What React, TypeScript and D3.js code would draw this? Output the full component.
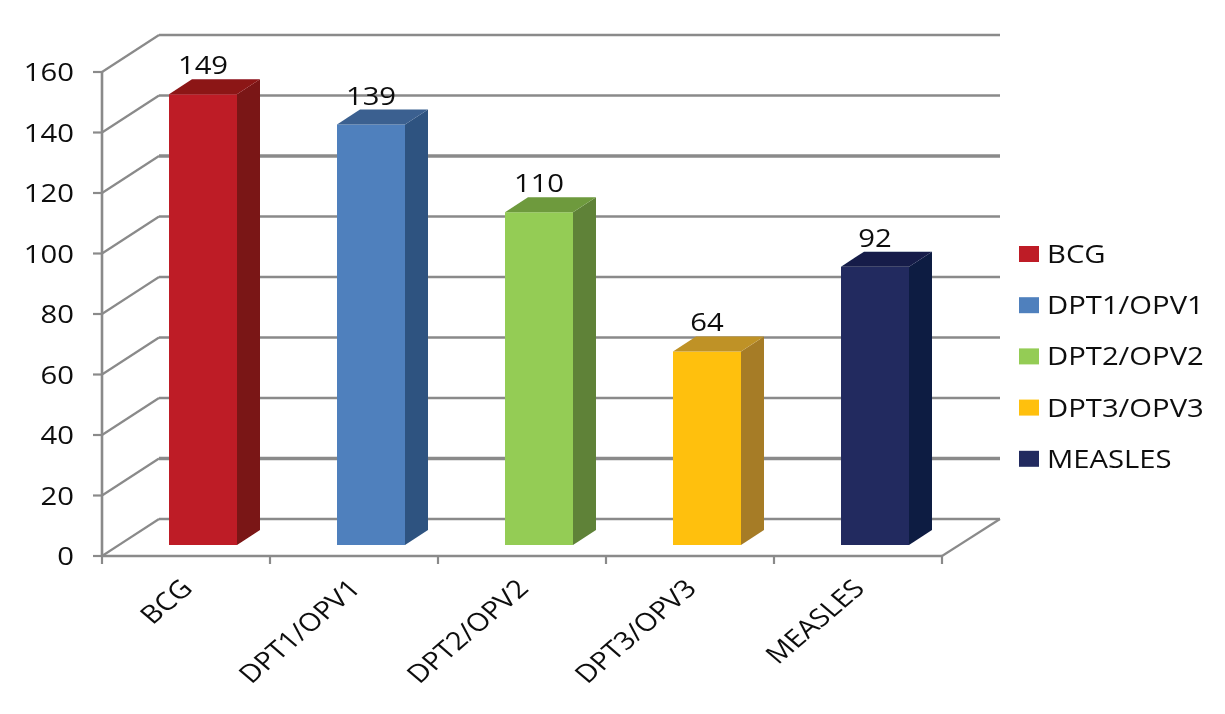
import React from "react";
import * as d3 from "d3";

const categories = ["BCG", "DPT1/OPV1", "DPT2/OPV2", "DPT3/OPV3", "MEASLES"];
const values = [149, 139, 110, 64, 92];
const frontColors = ["#BE1E27", "#4F80BD", "#94CC55", "#FFC00E", "#212A5E"];
const sideColors = ["#7A1212", "#2F5380", "#5E8238", "#A67C28", "#101A42"];
const topColors = ["#8C1518", "#3A6090", "#6E9A3E", "#BF9228", "#141E4A"];
const yTicks = [0, 20, 40, 60, 80, 100, 120, 140, 160];
const heavyTicks = [20, 120];

const FONT = "'Open Sans', sans-serif";
const STRETCH = 1.17;
const FS = 25;
const GRID = "#8a8a8a";

const y = d3.scaleLinear().domain([0, 160]).range([556, 72]);
const x = d3.scaleBand<string>().domain(categories).range([102, 942]);

const depthX = 57;
const depthY = 37;
const barInset = 67;
const barW = 68;
const barFloorLift = 11;
const barDepthX = 23;
const barDepthY = 15;

const poly = (pts: [number, number][]) => d3.line()(pts) + "Z";

export default function App() {
  const band = x.bandwidth();
  return (
    <svg width={1225} height={714} style={{ position: "absolute", left: 0, top: 0, background: "#fff" }} fontFamily={FONT} fill="#111">
      <defs>
        <filter id="soft" x="-5%" y="-5%" width="110%" height="110%">
          <feGaussianBlur stdDeviation="0.45" />
        </filter>
      </defs>
      <g filter="url(#soft)">
        {yTicks.map((t) => {
          const yf = y(t);
          const w = heavyTicks.includes(t) ? 3.6 : 2.6;
          return (
            <g key={t} stroke={GRID} fill="none">
              <line x1={102 + depthX} x2={1000} y1={yf - depthY} y2={yf - depthY} strokeWidth={w} />
              <line x1={102} x2={102 + depthX} y1={yf} y2={yf - depthY} strokeWidth={2.2} />
              <line x1={93} x2={102} y1={yf} y2={yf} strokeWidth={2.2} />
            </g>
          );
        })}
        <line x1={102} x2={102} y1={72} y2={556} stroke={GRID} strokeWidth={2.6} />
        <line x1={102} x2={942} y1={556} y2={556} stroke={GRID} strokeWidth={2.6} />
        <line x1={942} x2={1000} y1={556} y2={519} stroke={GRID} strokeWidth={2.2} />
        {[...categories.map((c) => x(c)!), 942].map((px) => (
          <line key={px} x1={px} x2={px} y1={556} y2={564} stroke={GRID} strokeWidth={2.2} />
        ))}

        {categories.map((c, i) => {
          const x0 = x(c)! + barInset;
          const x1 = x0 + barW;
          const yb = y(0) - barFloorLift;
          const yt = y(values[i]) - barFloorLift;
          return (
            <g key={c}>
              <path fill={frontColors[i]} d={poly([[x0, yt], [x1, yt], [x1, yb], [x0, yb]])} />
              <path fill={sideColors[i]} d={poly([[x1, yt], [x1 + barDepthX, yt - barDepthY], [x1 + barDepthX, yb - barDepthY], [x1, yb]])} />
              <path fill={topColors[i]} d={poly([[x0, yt], [x0 + barDepthX, yt - barDepthY], [x1 + barDepthX, yt - barDepthY], [x1, yt]])} />
              <text transform={`translate(${x0 + 34},${yt - 20}) scale(${STRETCH},1)`} textAnchor="middle" fontSize={FS}>
                {values[i]}
              </text>
            </g>
          );
        })}

        {yTicks.map((t) => (
          <text key={t} transform={`translate(74,${y(t) + 9}) scale(${STRETCH},1)`} textAnchor="end" fontSize={FS}>
            {t}
          </text>
        ))}

        {categories.map((c) => (
          <text
            key={c}
            transform={`translate(${x(c)! + band / 2 + 8},${590}) scale(${STRETCH},1) rotate(-45)`}
            textAnchor="end"
            fontSize={25}
          >
            {c}
          </text>
        ))}

        {categories.map((c, i) => {
          const ly = 254 + i * 51.2;
          return (
            <g key={c}>
              <rect x={1019} y={ly - 8} width={20} height={16} fill={frontColors[i]} />
              <text transform={`translate(1047,${ly + 9}) scale(${STRETCH},1)`} fontSize={FS}>
                {c}
              </text>
            </g>
          );
        })}
      </g>
    </svg>
  );
}
